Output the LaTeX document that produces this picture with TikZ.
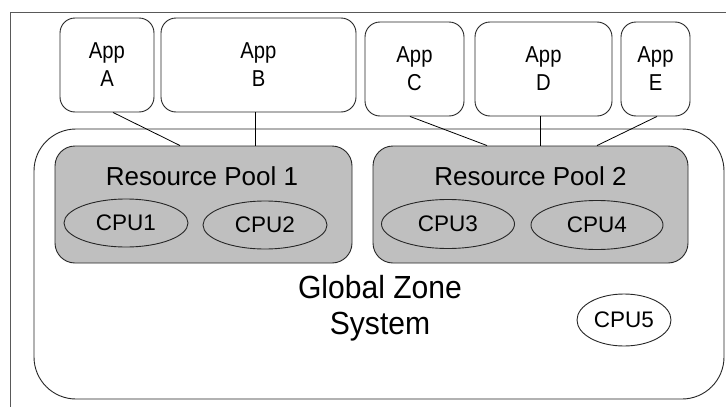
\documentclass[tikz,border=0pt]{standalone}
\usepackage{fontspec}
\setmainfont{Liberation Sans}
\newfontfamily\appfont[FakeStretch=0.88]{Liberation Sans}
\newfontfamily\zonefont[FakeStretch=0.94]{Liberation Sans}
\usetikzlibrary{shapes.geometric,calc}

\tikzset{
  appbox/.style={draw=black!85, line width=0.9pt, fill=white, rounded corners=15pt,
    minimum height=94pt, inner sep=0pt, align=center,
    font=\appfont\fontsize{23}{28}\selectfont},
  poolbox/.style={draw=black!85, line width=0.9pt, fill=black!25, rounded corners=20pt,
    minimum height=117pt, inner sep=0pt},
  poollabel/.style={anchor=base, inner sep=0pt, font=\fontsize{26}{30}\selectfont},
  zonebox/.style={draw=black!85, line width=0.9pt, fill=white, rounded corners=42pt,
    inner sep=0pt},
  cpu/.style={ellipse, draw=black!85, line width=0.9pt, inner sep=0pt,
    font=\fontsize{22.5}{26}\selectfont},
  link/.style={draw=black, line width=0.8pt},
  frameline/.style={draw=black!65, line width=1pt},
}

\begin{document}
\begin{tikzpicture}[x=1pt, y=-1pt]
  \useasboundingbox (0,0) rectangle (726,407);
  \fill[white] (0,0) rectangle (726,407);

  % outer frame
  \draw[frameline] (10,407) -- (10,12) -- (726,12);

  % global zone
  \node[zonebox, minimum width=690pt, minimum height=270pt] (zone) at (379,264) {};
  \node[font=\zonefont\fontsize{32}{36}\selectfont, align=center, inner sep=0pt]
    (zonelabel) at (380,308) {Global Zone\\System};

  % resource pools
  \node[poolbox, minimum width=297pt] (pool1) at (203.5,204.5) {};
  \node[poolbox, minimum width=315pt] (pool2) at (530.5,204.5) {};
  \node[poollabel] (pool1label) at (202,185) {Resource Pool 1};
  \node[poollabel] (pool2label) at (530.5,185) {Resource Pool 2};

  % processors
  \node[cpu, minimum width=124pt, minimum height=48pt] (cpu1) at (126,223) {CPU1};
  \node[cpu, minimum width=124pt, minimum height=48pt] (cpu2) at (265,225) {CPU2};
  \node[cpu, minimum width=133pt, minimum height=49pt] (cpu3) at (448,224) {CPU3};
  \node[cpu, minimum width=132pt, minimum height=49pt] (cpu4) at (597,225) {CPU4};
  \node[cpu, minimum width=94pt, minimum height=52pt] (cpu5) at (624,320) {CPU5};

  % applications
  \node[appbox, minimum width=94pt]  (appA) at (107,65)   {App\\A};
  \node[appbox, minimum width=195pt] (appB) at (258.5,65) {App\\B};
  \node[appbox, minimum width=99pt]  (appC) at (414.5,69) {App\\C};
  \node[appbox, minimum width=137pt] (appD) at (543.5,69) {App\\D};
  \node[appbox, minimum width=69pt]  (appE) at (655.5,69) {App\\E};

  % application to pool bindings
  \draw[link] ($(appA.south)+(6,0)$)    -- ($(pool1.north)+(-23.5,0)$);
  \draw[link] ($(appB.south)+(-3.5,0)$) -- ($(pool1.north)+(51.5,0)$);
  \draw[link] ($(appC.south)+(-4.5,0)$) -- ($(pool2.north)+(-43.5,0)$);
  \draw[link] ($(appD.south)+(-3.5,0)$) -- ($(pool2.north)+(9.5,0)$);
  \draw[link] ($(appE.south)+(1.5,0)$)  -- ($(pool2.north)+(66.5,0)$);
\end{tikzpicture}
\end{document}
